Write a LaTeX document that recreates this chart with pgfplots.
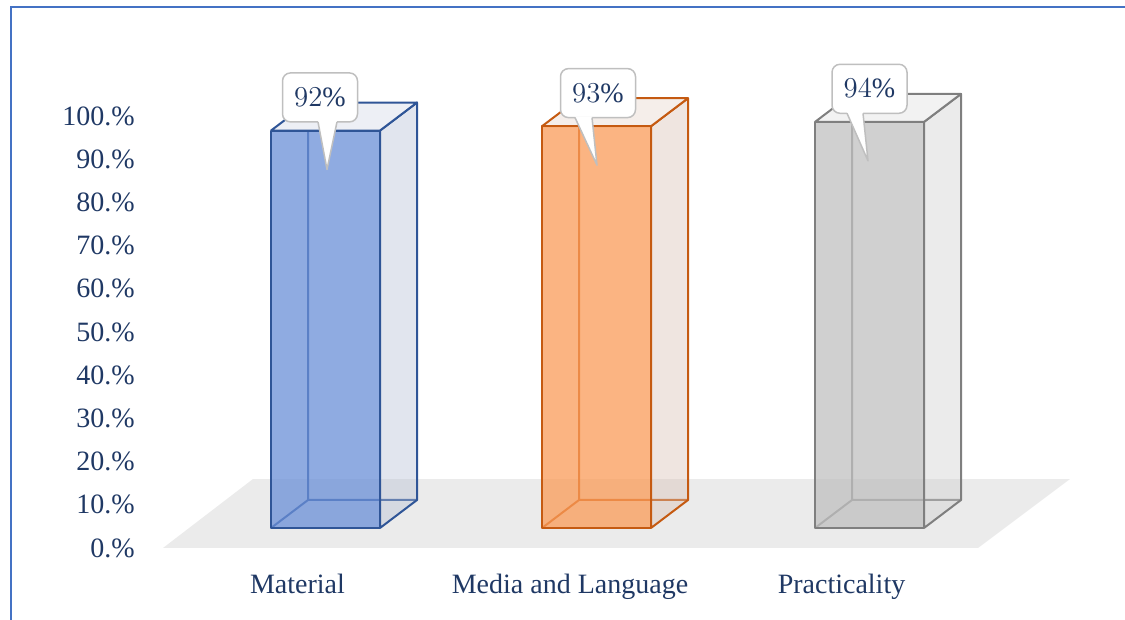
\documentclass[border=0pt]{standalone}
\usepackage{pgfplots}
\usepackage{pgfplotstable}
\pgfplotsset{compat=1.18}
\usepackage{fontspec}
\setmainfont{Liberation Serif}

\definecolor{navy}{HTML}{1F3864}
\definecolor{frameblue}{HTML}{4472C4}
\definecolor{floorgray}{HTML}{EBEBEB}
\definecolor{callgray}{HTML}{BFBFBF}
\definecolor{bEdge}{HTML}{2F5597}
\definecolor{bFront}{RGB}{106,143,215}
\definecolor{bSide}{RGB}{180,190,212}
\definecolor{bTop}{RGB}{237,239,245}
\definecolor{oEdge}{HTML}{C55A11}
\definecolor{oFront}{RGB}{250,155,88}
\definecolor{oSide}{RGB}{215,190,178}
\definecolor{oTop}{RGB}{245,238,234}
\definecolor{gEdge}{HTML}{7F7F7F}
\definecolor{gFront}{RGB}{192,192,192}
\definecolor{gSide}{RGB}{205,205,205}
\definecolor{gTop}{RGB}{242,242,242}

% bar data: x0 = left edge of front face (px units), v = value (%),
% cx = callout centre, tl/tr = tail base, tip = tail tip x
\pgfplotstableread{
x0 v cx tl tr tip
271 92 320 318 337 327
542 93 598 575 592 597
815 94 869.5 847 863 868
}\bars

% unit corner tables for the faces of a box (a: width, h: height, d: depth)
\pgfplotstableread{
a h d
0 0 0
1 0 0
1 1 0
0 1 0
0 0 0
}\faceFront
\pgfplotstableread{
a h d
1 0 0
1 0 1
1 1 1
1 1 0
1 0 0
}\faceSide
\pgfplotstableread{
a h d
0 1 0
1 1 0
1 1 1
0 1 1
0 1 0
}\faceTop
\pgfplotstableread{
a h d
0 1 1
0 0 1
0 0 0
0 0 1
1 0 1
}\hiddenEdges

\newcommand\getrow[2]{%
  \pgfplotstablegetelem{#1}{x0}\of\bars\expandafter\let\csname x#2\endcsname\pgfplotsretval
  \pgfplotstablegetelem{#1}{v}\of\bars\expandafter\let\csname v#2\endcsname\pgfplotsretval
  \pgfplotstablegetelem{#1}{cx}\of\bars\expandafter\let\csname c#2\endcsname\pgfplotsretval
  \pgfplotstablegetelem{#1}{tl}\of\bars\expandafter\let\csname l#2\endcsname\pgfplotsretval
  \pgfplotstablegetelem{#1}{tr}\of\bars\expandafter\let\csname r#2\endcsname\pgfplotsretval
  \pgfplotstablegetelem{#1}{tip}\of\bars\expandafter\let\csname t#2\endcsname\pgfplotsretval}
\getrow{0}{A}
\getrow{1}{B}
\getrow{2}{C}

\pgfplotsset{
  facestyle/.style={line width=1pt, line join=round, mark=none},
}
% #1 x0, #2 value, #3 edge, #4 front, #5 side, #6 top
\newcommand\drawbar[6]{%
  \addplot[facestyle, draw=#3] table[x expr={#1+\thisrow{a}*109+\thisrow{d}*37}, y expr={4.63+\thisrow{h}*#2+\thisrow{d}*6.48}] {\hiddenEdges};
  \addplot[facestyle, draw=#3, fill=#5, fill opacity=0.4] table[x expr={#1+\thisrow{a}*109+\thisrow{d}*37}, y expr={4.63+\thisrow{h}*#2+\thisrow{d}*6.48}] {\faceSide};
  \addplot[facestyle, draw=#3, fill=#6] table[x expr={#1+\thisrow{a}*109+\thisrow{d}*37}, y expr={4.63+\thisrow{h}*#2+\thisrow{d}*6.48}] {\faceTop};
  \addplot[facestyle, draw=#3, fill=#4, fill opacity=0.75] table[x expr={#1+\thisrow{a}*109+\thisrow{d}*37}, y expr={4.63+\thisrow{h}*#2+\thisrow{d}*6.48}] {\faceFront};
}
% #1 cx, #2 value, #3 tl, #4 tr, #5 tip
\newcommand\drawcallout[5]{%
  \draw[fill=white, draw=callgray, line width=0.75pt, rounded corners=4pt]
    (axis cs:{#1-37.5},{#2+6.63}) rectangle (axis cs:{#1+37.5},{#2+17.97});
  \fill[white] (axis cs:#3,{#2+6.9}) -- (axis cs:#5,{#2-4.37}) -- (axis cs:#4,{#2+6.9}) -- cycle;
  \draw[callgray, line width=0.75pt, line join=round]
    (axis cs:#3,{#2+6.63}) -- (axis cs:#5,{#2-4.37}) -- (axis cs:#4,{#2+6.63});
}

\begin{document}
\begin{tikzpicture}
\begin{axis}[
  scale only axis,
  width=562.5pt, height=310pt,
  xmin=0, xmax=1125,
  ymin=-16.667, ymax=126.852,
  enlargelimits=false,
  axis line style={draw=none},
  major tick length=0pt,
  tick style={draw=none},
  ytick={0,10,...,100},
  yticklabels={0.\%,10.\%,20.\%,30.\%,40.\%,50.\%,60.\%,70.\%,80.\%,90.\%,100.\%},
  xtick={297.5,570,841.5},
  xticklabels={Material,Media and Language,Practicality},
  tick label style={font=\fontsize{14}{16}\selectfont, text=navy, inner sep=0pt},
  yticklabel style={anchor=east, xshift=67.5pt},
  xticklabel style={anchor=base, yshift=13pt},
]
% frame
\addplot[draw=frameblue, line width=1pt, mark=none] coordinates {(11,-20) (11,125.23) (1130,125.23)};
% floor
\addplot[draw=none, fill=floorgray, mark=none] coordinates {(163,0) (978,0) (1070,15.97) (253,15.97) (163,0)};
% bars
\drawbar{\xA}{\vA}{bEdge}{bFront}{bSide}{bTop}
\drawbar{\xB}{\vB}{oEdge}{oFront}{oSide}{oTop}
\drawbar{\xC}{\vC}{gEdge}{gFront}{gSide}{gTop}
% callouts
\drawcallout{\cA}{\vA}{\lA}{\rA}{\tA}
\drawcallout{\cB}{\vB}{\lB}{\rB}{\tB}
\drawcallout{\cC}{\vC}{\lC}{\rC}{\tC}
% value labels
\addplot[draw=none, mark=none, point meta=explicit,
  nodes near coords={\pgfmathprintnumber{\pgfplotspointmeta}\%},
  every node near coord/.style={anchor=center, inner sep=0pt, font=\fontsize{14}{16}\selectfont, text=navy}]
  table[x=cx, y expr={\thisrow{v}+12.3}, meta=v] {\bars};
\end{axis}
\end{tikzpicture}
\end{document}
